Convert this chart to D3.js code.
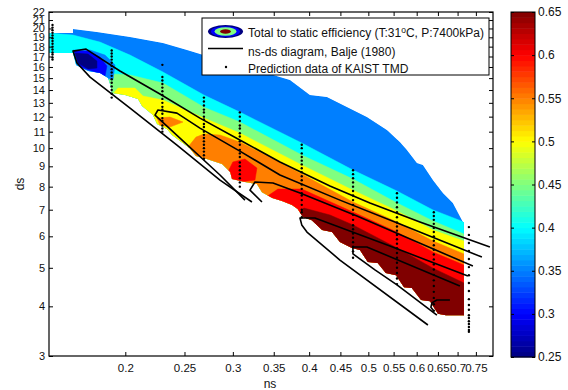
<!DOCTYPE html>
<html>
<head>
<meta charset="utf-8">
<script src="https://cdn.jsdelivr.net/npm/d3@7"></script>
<style>
  body { margin: 0; background: #fff; }
  svg { display: block; font-family: "Liberation Sans", Arial, sans-serif; }
</style>
</head>
<body>
<div id="chart"></div>
<script>
// ticks
const xTicks = [0.2, 0.25, 0.3, 0.35, 0.4, 0.45, 0.5, 0.55, 0.6, 0.65, 0.7, 0.75];
const yTicks = [3, 4, 5, 6, 7, 8, 9, 10, 11, 12, 13, 14, 15, 16, 17, 18, 19, 20, 21, 22];
const cbTicks = [0.25, 0.3, 0.35, 0.4, 0.45, 0.5, 0.55, 0.6, 0.65];

// outline of the efficiency map [ns, ds]
const envelope = [
  [0.150, 19.47], [0.1642, 19.47], [0.1642, 19.93], [0.1797, 19.59], [0.2036, 19.03], [0.2305, 18.38],
  [0.2524, 17.65], [0.2752, 16.95], [0.320, 15.90], [0.3721, 14.83], [0.4012, 13.60], [0.4278, 13.44],
  [0.4543, 12.83], [0.4973, 11.97], [0.5363, 11.10], [0.5632, 10.36], [0.5783, 9.89], [0.6005, 9.17],
  [0.6142, 9.07], [0.6378, 8.31], [0.6623, 7.71], [0.6877, 7.28], [0.7142, 6.52], [0.717, 6.52], [0.717, 3.80],
  [0.6698, 3.80], [0.650, 3.83], [0.631, 4.12], [0.610, 4.15], [0.589, 4.45], [0.572, 4.47], [0.555, 4.79],
  [0.534, 4.85], [0.518, 5.14], [0.499, 5.17], [0.4844, 5.54], [0.470, 5.61], [0.4492, 5.81], [0.436, 6.15],
  [0.420, 6.22], [0.404, 6.59], [0.3907, 6.71], [0.383, 7.03], [0.3749, 7.19], [0.361, 7.36], [0.348, 7.49],
  [0.3348, 7.75], [0.3285, 8.12], [0.314, 8.22], [0.299, 8.36], [0.297, 8.71], [0.288, 9.12], [0.272, 9.39],
  [0.261, 9.55], [0.255, 10.0], [0.2385, 10.79], [0.234, 11.17], [0.2254, 11.50], [0.222, 12.11], [0.213, 12.76],
  [0.2098, 13.29], [0.1998, 13.60], [0.1902, 13.76], [0.1888, 14.49], [0.1874, 15.01], [0.1818, 15.45],
  [0.1738, 15.63], [0.1661, 16.18], [0.1642, 17.34], [0.150, 17.34]
];

// upper edge of each efficiency band (efficiency >= level below the edge)
const band40 = [[0.150, 19.47], [0.1642, 19.25], [0.1818, 18.48], [0.2036, 17.14], [0.2305, 15.54], [0.269, 13.60], [0.308, 12.32], [0.389, 10.30], [0.4718, 8.81], [0.557, 7.80], [0.638, 6.99], [0.717, 6.52]];
const band45 = [[0.1874, 14.66], [0.1902, 15.36], [0.2036, 15.27], [0.2305, 14.58], [0.269, 12.68], [0.308, 11.63], [0.389, 9.61], [0.4718, 8.36], [0.557, 7.28], [0.638, 6.56], [0.717, 6.08]];
const band50 = [[0.1902, 13.60], [0.1946, 14.16], [0.2074, 14.16], [0.2138, 13.52], [0.2305, 13.21], [0.269, 11.90], [0.308, 10.91], [0.389, 9.07], [0.4718, 7.84], [0.557, 6.95], [0.638, 6.22], [0.717, 5.84]];
const band55 = [[0.2533, 10.06], [0.2611, 10.66], [0.269, 10.85], [0.2858, 10.79], [0.308, 10.36], [0.389, 8.61], [0.4718, 7.32], [0.557, 6.52], [0.638, 5.84], [0.717, 5.42]];
const band60 = [[0.340, 7.53], [0.3556, 7.89], [0.389, 7.89], [0.4718, 6.91], [0.557, 6.15], [0.638, 5.48], [0.717, 5.08]];
const band65 = [[0.385, 6.83], [0.392, 7.07], [0.4326, 6.79], [0.4718, 6.41], [0.557, 5.61], [0.638, 4.99], [0.717, 4.58]];

// closed islands
const blob55 = [[0.2254, 11.90], [0.2367, 11.97], [0.2486, 11.63], [0.2367, 11.30], [0.2279, 11.43]];
const blob60 = [[0.2945, 8.71], [0.300, 9.23], [0.314, 9.39], [0.3285, 8.91], [0.3261, 8.31], [0.308, 8.22], [0.2968, 8.31]];
const low35 = [[0.1642, 17.65], [0.1751, 17.65], [0.1853, 17.14], [0.1924, 16.18], [0.1909, 14.83], [0.1818, 15.27], [0.1667, 15.99]];
const low30 = [[0.1648, 17.54], [0.1738, 17.54], [0.1818, 16.95], [0.1866, 16.08], [0.1853, 15.18], [0.1784, 15.54], [0.1686, 15.99]];
const low25 = [[0.1655, 17.34], [0.1738, 17.24], [0.1797, 16.56], [0.1797, 15.90], [0.1738, 15.81], [0.1673, 16.37]];

// ns-ds diagram, Balje (1980)
const balje = [
  [[0.3224, 7.32], [0.2858, 8.31], [0.243, 10.18], [0.2036, 12.61], [0.1751, 15.09], [0.1667, 16.37], [0.1642, 17.54], [0.1725, 17.75], [0.196, 15.63], [0.2279, 13.68], [0.265, 11.90], [0.308, 10.48], [0.3583, 9.23], [0.4326, 8.03], [0.503, 7.28], [0.6073, 6.52], [0.7907, 5.64]],
  [[0.314, 7.40], [0.2858, 8.56], [0.234, 11.36], [0.2237, 12.11], [0.2262, 12.47], [0.243, 12.25], [0.265, 11.23], [0.308, 9.83], [0.3583, 8.56], [0.4492, 7.40], [0.5632, 6.44], [0.7672, 5.32]],
  [[0.3348, 7.32], [0.320, 7.84], [0.3261, 8.22], [0.349, 8.17], [0.3864, 7.71], [0.479, 6.75], [0.7416, 5.05]],
  [[0.6259, 3.59], [0.4492, 5.23], [0.3967, 6.15], [0.389, 6.41], [0.3864, 6.67], [0.4088, 6.67], [0.5424, 5.67], [0.7278, 4.77]],
  [[0.6475, 3.80], [0.557, 4.53], [0.5126, 4.94], [0.4718, 5.42], [0.4718, 5.64], [0.4973, 5.64], [0.7061, 4.50]],
  [[0.680, 4.15], [0.6475, 4.15], [0.6354, 4.08], [0.633, 3.98], [0.640, 3.89]]
];

// prediction data of KAIST TMD: one ns per column, ds values in it
const tmdNs = [0.152, 0.190, 0.230, 0.269, 0.308, 0.389, 0.472, 0.557, 0.640, 0.7305];
const tmdDs = [
  [20.4, 20.1, 19.8, 19.5, 19.2, 18.9, 18.6, 18.3, 18.0, 17.7, 17.4, 17.2, 16.9, 16.7],
  [17.6, 17.3, 17.0, 16.7, 16.4, 16.1, 15.8, 15.5, 15.2, 14.9, 14.6, 14.3, 14.0, 13.7, 13.4],
  [16.2, 15.1, 14.8, 14.5, 14.2, 13.9, 13.6, 13.3, 13.0, 12.7, 12.5, 12.2, 11.9, 11.7, 11.4, 11.2, 11.0],
  [13.4, 13.1, 12.8, 12.5, 12.3, 12.0, 11.8, 11.5, 11.3, 11.0, 10.8, 10.6, 10.4, 10.2, 10.0, 9.8, 9.6, 9.4],
  [12.3, 12.0, 11.7, 11.4, 11.2, 10.9, 10.7, 10.4, 10.2, 9.9, 9.7, 9.5, 9.2, 9.0, 8.8, 8.6, 8.4, 8.2, 8.0],
  [10.2, 10.0, 9.7, 9.5, 9.3, 9.1, 8.9, 8.7, 8.5, 8.3, 8.1, 7.9, 7.7, 7.6, 7.4, 7.2, 7.0, 6.9, 6.7],
  [8.8, 8.6, 8.4, 8.2, 8.0, 7.8, 7.6, 7.4, 7.2, 7.0, 6.8, 6.6, 6.4, 6.25, 6.1, 5.95, 5.8, 5.65, 5.5, 5.3],
  [7.7, 7.5, 7.3, 7.1, 6.9, 6.7, 6.5, 6.35, 6.2, 6.05, 5.9, 5.75, 5.6, 5.45, 5.3, 5.15, 5.0, 4.85, 4.7, 4.55],
  [6.9, 6.75, 6.6, 6.45, 6.3, 6.15, 6.0, 5.85, 5.7, 5.55, 5.4, 5.25, 5.1, 4.95, 4.8, 4.65, 4.5, 4.35, 4.2, 4.05, 3.9],
  [6.33, 6.05, 5.77, 5.51, 5.26, 5.02, 4.79, 4.58, 4.37, 4.17, 4.03, 3.92, 3.80, 3.74, 3.67, 3.61, 3.55, 3.49, 3.45]
];

const width = 568, height = 390;
const plot = {left: 49, right: 493, top: 12, bottom: 356};

// matlab jet colormap on the colorbar range
function jet(v) {
  const t = (v - 0.25) / 0.4;
  const c = k => Math.round(255 * Math.max(0, Math.min(1, 1.5 - Math.abs(4 * t - k))));
  return `rgb(${c(3)},${c(2)},${c(1)})`;
}

const svg = d3.select('#chart').append('svg')
  .attr('width', width)
  .attr('height', height);

svg.append('rect').attr('width', width).attr('height', height).attr('fill', '#fff');

const x = d3.scaleLog().domain([0.15, 0.8]).range([plot.left, plot.right]);
const y = d3.scaleLog().domain([3, 22]).range([plot.bottom, plot.top]);
const yMin = y.domain()[0];

const poly = d3.line().x(d => x(d[0])).y(d => y(d[1]));

svg.append('clipPath').attr('id', 'env')
  .append('path').attr('d', poly(envelope) + 'Z');

// a band's edge closed down to the bottom of the axis; the envelope clip trims it
const toBottom = pts => pts.concat([[pts[pts.length - 1][0], yMin], [pts[0][0], yMin]]);

const layers = [
  {level: 0.35, pts: envelope},
  {level: 0.4, pts: toBottom(band40)},
  {level: 0.45, pts: toBottom(band45)},
  {level: 0.5, pts: toBottom(band50)},
  {level: 0.55, pts: blob55},
  {level: 0.55, pts: toBottom(band55)},
  {level: 0.6, pts: toBottom(band60)},
  {level: 0.6, pts: blob60},
  {level: 0.65, pts: toBottom(band65)},
  {level: 0.35, pts: low35},
  {level: 0.3, pts: low30},
  {level: 0.25, pts: low25}
];

svg.append('g')
  .attr('clip-path', 'url(#env)')
  .selectAll('path')
  .data(layers)
  .join('path')
  .attr('d', d => poly(d.pts) + 'Z')
  .attr('fill', d => jet(d.level))
  .attr('stroke', d => jet(d.level))
  .attr('stroke-width', 0.5);

svg.append('g')
  .selectAll('path')
  .data(balje)
  .join('path')
  .attr('d', poly)
  .attr('fill', 'none')
  .attr('stroke', '#000')
  .attr('stroke-width', 1.6)
  .attr('stroke-linejoin', 'round');

const dots = tmdNs.flatMap((ns, i) => tmdDs[i].map(ds => [ns, ds]));
svg.append('g')
  .selectAll('circle')
  .data(dots)
  .join('circle')
  .attr('cx', d => x(d[0]))
  .attr('cy', d => y(d[1]))
  .attr('r', 1.2)
  .attr('fill', '#000');

// axes, ticks pointing inward on all four sides
const styleAxis = size => g => {
  g.select('.domain').remove();
  g.selectAll('line').attr('stroke', '#000');
  g.selectAll('text').attr('fill', '#111').attr('font-size', size).attr('font-family', '"Liberation Sans", Arial, sans-serif');
};

svg.append('g')
  .attr('transform', `translate(0,${plot.bottom})`)
  .call(d3.axisBottom(x).tickValues(xTicks).tickFormat(d => d).tickSizeInner(-4).tickSizeOuter(0).tickPadding(8))
  .call(styleAxis(11.5));

svg.append('g')
  .attr('transform', `translate(0,${plot.top})`)
  .call(d3.axisTop(x).tickValues(xTicks).tickFormat('').tickSizeInner(-4).tickSizeOuter(0))
  .call(styleAxis(11));

svg.append('g')
  .attr('transform', `translate(${plot.left},0)`)
  .call(d3.axisLeft(y).tickValues(yTicks).tickFormat(d => d).tickSizeInner(-4).tickSizeOuter(0).tickPadding(4))
  .call(styleAxis(11));

svg.append('g')
  .attr('transform', `translate(${plot.right},0)`)
  .call(d3.axisRight(y).tickValues(yTicks).tickFormat('').tickSizeInner(-4).tickSizeOuter(0))
  .call(styleAxis(11));

svg.append('rect')
  .attr('x', plot.left).attr('y', plot.top)
  .attr('width', plot.right - plot.left).attr('height', plot.bottom - plot.top)
  .attr('fill', 'none').attr('stroke', '#000').attr('stroke-width', 1.2);

svg.append('text')
  .attr('x', (plot.left + plot.right) / 2 - 1).attr('y', 388)
  .attr('text-anchor', 'middle').attr('font-size', 12).attr('fill', '#111')
  .text('ns');

svg.append('text')
  .attr('transform', 'translate(24,184) rotate(-90)')
  .attr('text-anchor', 'middle').attr('font-size', 12).attr('fill', '#111')
  .text('ds');

// legend
const legend = svg.append('g');
legend.append('rect')
  .attr('x', 202).attr('y', 18).attr('width', 287).attr('height', 57)
  .attr('fill', '#fff').attr('stroke', '#000').attr('stroke-width', 1);

const icon = [[17.5, 6.5, jet(0.25)], [14.5, 5.3, jet(0.3)], [11, 4.2, jet(0.45)], [5.5, 2.2, jet(0.65)]];
legend.selectAll('ellipse')
  .data(icon)
  .join('ellipse')
  .attr('cx', 225.5).attr('cy', 31.5)
  .attr('rx', d => d[0]).attr('ry', d => d[1])
  .attr('fill', d => d[2]);

legend.append('line')
  .attr('x1', 208).attr('x2', 243).attr('y1', 48.5).attr('y2', 48.5)
  .attr('stroke', '#000').attr('stroke-width', 1.6);
legend.append('circle').attr('cx', 226).attr('cy', 67).attr('r', 1.2).attr('fill', '#000');

const t1 = legend.append('text').attr('x', 248).attr('y', 37).attr('font-size', 12).attr('fill', '#111');
t1.append('tspan').text('Total to static efficiency (T:31');
t1.append('tspan').attr('dy', -4.5).attr('font-size', 8.5).text('o');
t1.append('tspan').attr('dy', 4.5).text('C, P:7400kPa)');
legend.append('text').attr('x', 248).attr('y', 55.5).attr('font-size', 12).attr('fill', '#111')
  .text('ns-ds diagram, Balje (1980)');
legend.append('text').attr('x', 248).attr('y', 72.5).attr('font-size', 12).attr('fill', '#111')
  .text('Prediction data of KAIST TMD');

// colorbar
const cbX = 511, cbW = 24;
const cb = d3.scaleLinear().domain([0.25, 0.65]).range([357, 12]);
const steps = 64, stepV = (cb.domain()[1] - cb.domain()[0]) / steps;
svg.append('g')
  .selectAll('rect')
  .data(d3.range(steps).map(i => cb.domain()[0] + i * stepV))
  .join('rect')
  .attr('x', cbX).attr('width', cbW)
  .attr('y', d => cb(d + stepV))
  .attr('height', d => cb(d) - cb(d + stepV) + 0.5)
  .attr('fill', d => jet(d + stepV / 2));

svg.append('g')
  .attr('transform', `translate(${cbX + cbW},0)`)
  .call(d3.axisRight(cb).tickValues(cbTicks).tickFormat(d => d).tickSizeInner(-3).tickSizeOuter(0).tickPadding(3))
  .call(styleAxis(12));
svg.append('g')
  .attr('transform', `translate(${cbX},0)`)
  .call(d3.axisLeft(cb).tickValues(cbTicks).tickFormat('').tickSizeInner(-3).tickSizeOuter(0))
  .call(styleAxis(12));
svg.append('rect')
  .attr('x', cbX).attr('y', 12).attr('width', cbW).attr('height', 345)
  .attr('fill', 'none').attr('stroke', '#000').attr('stroke-width', 1);
</script>
</body>
</html>
